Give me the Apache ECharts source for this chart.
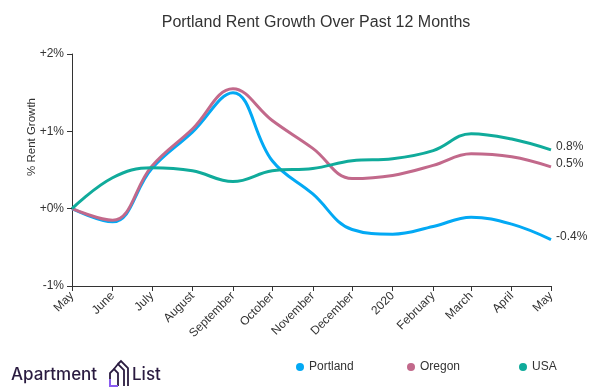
<!DOCTYPE html>
<html>
<head>
<meta charset="utf-8">
<script src="https://cdn.jsdelivr.net/npm/echarts@6/dist/echarts.min.js"></script>
<style>html,body{margin:0;padding:0;background:#fff;}#c{width:596px;height:388px;}</style>
</head>
<body>
<div id="c"></div>
<script>
const dates = ['2019-05-01','2019-06-01','2019-07-01','2019-08-01','2019-09-01','2019-10-01','2019-11-01','2019-12-01','2020-01-01','2020-02-01','2020-03-01','2020-04-01','2020-05-01'];
const portland = [0, -0.17, 0.52, 0.99, 1.5, 0.62, 0.19, -0.27, -0.33, -0.23, -0.11, -0.2, -0.4];
const oregon   = [0, -0.15, 0.55, 1.03, 1.55, 1.14, 0.78, 0.39, 0.43, 0.56, 0.71, 0.67, 0.54];
const usa      = [0, 0.40, 0.53, 0.49, 0.35, 0.49, 0.52, 0.62, 0.645, 0.75, 0.97, 0.9, 0.76];
const monthNames = ['2020','February','March','April','May','June','July','August','September','October','November','December'];
const yTicks = [-1, 0, 1, 2];
const seriesNames = ['Portland','Oregon','USA'];
const colors = ['#03a9f4','#c2698b','#10ab9b'];

const chart = echarts.init(document.getElementById('c'), null, {renderer:'canvas'});
const FONT = '"Liberation Sans", Arial, sans-serif';
function mk(name, vals, color){
  return {
    name, type:'line', smooth:0.4, showSymbol:false, symbol:'circle', symbolSize:8,
    data: dates.map((d,i)=>[d, vals[i]]),
    lineStyle:{width:3, color}, itemStyle:{color},
    endLabel:{show:true, formatter:p=>p.value[1].toFixed(1)+'%', color:'#333', fontSize:12, fontFamily:FONT, offset:[0,-3], distance:5}
  };
}
const legendLefts = [291, 402, 514];
chart.setOption({
  animation:false,
  textStyle:{fontFamily:FONT},
  title:{text:'Portland Rent Growth Over Past 12 Months', left:311, textAlign:'center', top:10,
    textStyle:{fontSize:16, fontWeight:'normal', color:'#333', fontFamily:FONT}},
  grid:{left:72, right:45, top:54, bottom:102},
  legend: seriesNames.map((n,i)=>({left:legendLefts[i], top:356, itemWidth:8, itemHeight:8, icon:'circle', itemGap:0,
    data:[n], textStyle:{color:'#333', fontSize:12, fontFamily:FONT}})),
  xAxis:{type:'time', min:dates[0], max:dates[dates.length-1], splitNumber:12,
    minInterval:28*86400000, maxInterval:31*86400000,
    axisLine:{onZero:false, lineStyle:{color:'#333', width:1}},
    axisTick:{show:true, length:5, lineStyle:{color:'#333'}},
    splitLine:{show:false},
    axisLabel:{rotate:45, color:'#333', fontSize:12, fontWeight:'normal', margin:8, showMinLabel:true, showMaxLabel:true, hideOverlap:false,
      formatter:function(v){const d=new Date(v); const m=d.getMonth(); return monthNames[m];}}},
  yAxis:{type:'value', min:yTicks[0], max:yTicks[yTicks.length-1], interval:1,
    axisLine:{show:true, lineStyle:{color:'#333'}},
    axisTick:{show:true, length:5, lineStyle:{color:'#333'}},
    splitLine:{show:false},
    axisLabel:{color:'#333', fontSize:12, margin:8, formatter:v=>(v>=0?'+':'')+v+'%'}},
  graphic:[
    {type:'text', x:32, y:137, rotation:Math.PI/2, style:{text:'% Rent Growth', fill:'#333', font:'11.5px '+FONT, textAlign:'center', textVerticalAlign:'middle'}},
    {type:'text', left:11, top:366, style:{text:'Apartment', fill:'#2a1b40', font:'500 17px Inter, sans-serif'}},
    {type:'text', left:132, top:366, style:{text:'List', fill:'#2a1b40', font:'500 17px Inter, sans-serif'}},
    {type:'polyline', shape:{points:[[110,386],[110,373],[114,369],[118,373],[118,386]]}, style:{stroke:'#2a1b40', lineWidth:1.8, fill:null}},
    {type:'polyline', shape:{points:[[114,369],[118,364],[124,370],[124,386]]}, style:{stroke:'#2a1b40', lineWidth:1.8, fill:null}},
    {type:'polyline', shape:{points:[[118,364],[121,361],[128,368],[128,386]]}, style:{stroke:'#2a1b40', lineWidth:1.8, fill:null}},
    {type:'polyline', shape:{points:[[110,379],[110,386],[118,386]]}, style:{stroke:'#8a5cf0', lineWidth:2, fill:null}}
  ],
  series:[mk('Portland',portland,colors[0]), mk('Oregon',oregon,colors[1]), mk('USA',usa,colors[2])]
});
</script>
</body>
</html>
